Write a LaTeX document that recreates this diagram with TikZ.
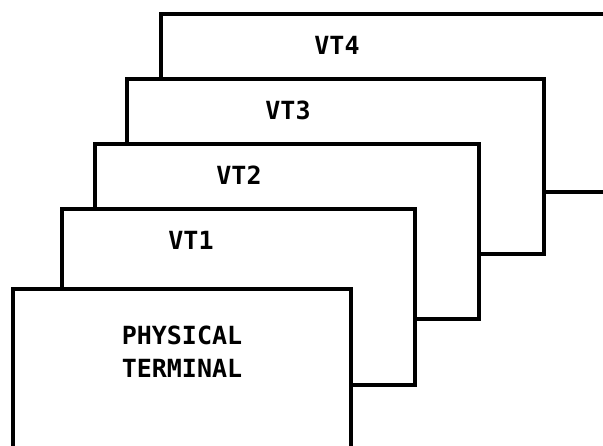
\documentclass[tikz,border=0pt]{standalone}
\usepackage{fontspec}
\newfontfamily\monof{DejaVu Sans Mono}
\begin{document}
\begin{tikzpicture}[x=1pt,y=-1pt,
  screen/.style={draw=black, fill=white, line width=3.4pt, rectangle, inner sep=0pt, outer sep=0pt},
  lbl/.style={font=\monof\bfseries\fontsize{25}{33}\selectfont, inner sep=0pt, align=center, text=black}]
\useasboundingbox (0,0) rectangle (603,446);
\clip (0,0) rectangle (603,446);
\node[screen, minimum width=539pt, minimum height=178pt] (vt4) at (430.5,103) {};
\node[screen, minimum width=417pt, minimum height=175pt] (vt3) at (335.5,166.5) {};
\node[screen, minimum width=384pt, minimum height=175pt] (vt2) at (287,231.5) {};
\node[screen, minimum width=353pt, minimum height=176pt] (vt1) at (238.5,297) {};
\node[screen, minimum width=338pt, minimum height=176pt] (pt) at (182,377) {};
\node[lbl] (l4) at (337,45) {VT4};
\node[lbl] (l3) at (288,110) {VT3};
\node[lbl] (l2) at (239,175) {VT2};
\node[lbl] (l1) at (191,240) {VT1};
\node[lbl] (lp) at (182,351.5) {PHYSICAL\\TERMINAL};
\end{tikzpicture}
\end{document}
